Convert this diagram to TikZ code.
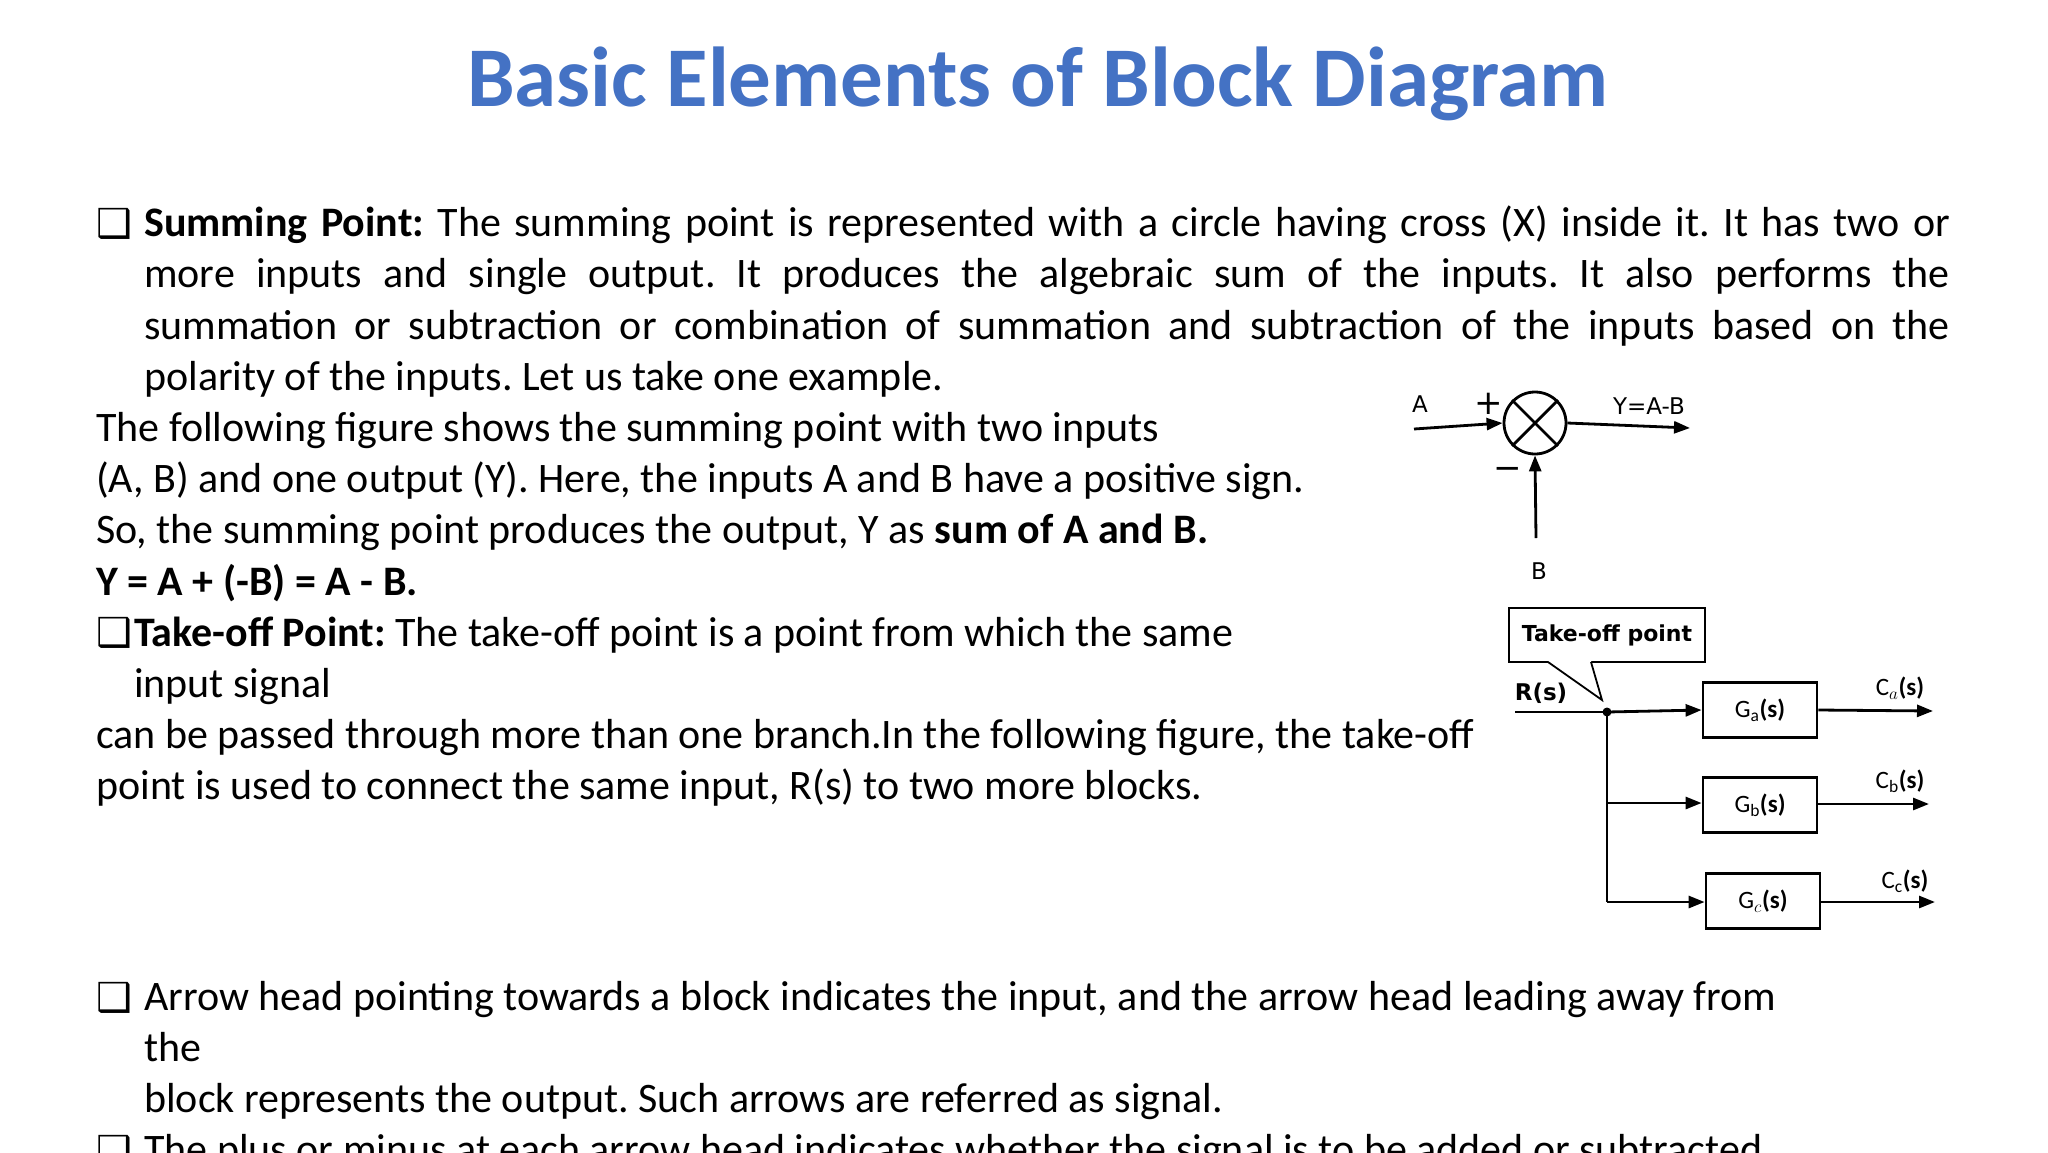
\documentclass[tikz,border=0pt]{standalone}
\usepackage{fontspec}
\setmainfont{Carlito}
\newfontfamily\dejavu{DejaVu Sans}
\usetikzlibrary{arrows.meta}
\definecolor{titleblue}{RGB}{68,114,196}
\tikzset{
  txt/.style={anchor=base west,inner sep=0pt,font=\frenchspacing\fontsize{42}{50}\selectfont},
  bul/.style={anchor=base west,inner sep=0pt,font=\dejavu\fontsize{40}{44}\selectfont},
  fig/.style={inner sep=0pt,font=\dejavu\fontsize{23}{27}\selectfont},
  sig/.style={line width=2.8pt,-{Triangle[length=16pt,width=12pt]}},
  wire/.style={line width=2.8pt},
  blk/.style={draw,line width=2.8pt,minimum width=114pt,minimum height=55pt,inner sep=0pt,font=\fontsize{25}{30}\selectfont}
}
\begin{document}
\begin{tikzpicture}[x=1pt,y=-1pt]
\useasboundingbox (0,0) rectangle (2048,1152);
\clip (0,0) rectangle (2048,1152);
\node[inner sep=0pt,text=titleblue,font=\bfseries\fontsize{85}{95}\selectfont] (title) at (1038,84) {Basic Elements of Block Diagram};
% bullet 1
\node[bul] (b1) at (96,237) {❑};
\node[txt] (l1) at (144,236) {\hbox to 1806pt{\textbf{Summing Point:} The summing point is represented with a circle having cross (X) inside it. It has two or}};
\node[txt] (l2) at (144,287) {\hbox to 1806pt{more inputs and single output. It produces the algebraic sum of the inputs. It also performs the}};
\node[txt] (l3) at (144,339) {\hbox to 1806pt{summation or subtraction or combination of summation and subtraction of the inputs based on the}};
\node[txt] (l4) at (144,390) {polarity of the inputs. Let us take one example.};
\node[txt] (l5) at (96,441) {The following figure shows the summing point with two inputs};
\node[txt] (l6) at (96,492) {(A, B) and one output (Y). Here, the inputs A and B have a positive sign.};
\node[txt] (l7) at (96,543) {So, the summing point produces the output, Y as \textbf{sum of A and B.}};
\node[txt] (l8) at (96,595) {\textbf{Y = A + (-B) = A - B.}};
\node[bul] (b2) at (96,646) {❑};
\node[txt] (l9) at (134,646) {\textbf{Take-off Point:} The take-off point is a point from which the same};
\node[txt] (l10) at (134,697) {input signal};
\node[txt] (l11) at (96,748) {can be passed through more than one branch.In the following figure, the take-off};
\node[txt] (l12) at (96,799) {point is used to connect the same input, R(s) to two more blocks.};
\node[bul] (b3) at (96,1011) {❑};
\node[txt] (l13) at (144,1010) {Arrow head pointing towards a block indicates the input, and the arrow head leading away from};
\node[txt] (l14) at (144,1061) {the};
\node[txt] (l15) at (144,1112) {block represents the output. Such arrows are referred as signal.};
\node[bul] (b4) at (96,1164) {❑};
\node[txt] (l16) at (144,1163) {The plus or minus at each arrow head indicates whether the signal is to be added or subtracted};
\begin{scope}[xshift=-8pt]
% summing point figure
\node[circle,draw,line width=2.8pt,minimum size=62pt,inner sep=0pt] (sum) at (1543,423) {};
\draw[wire] (sum.north west) -- (sum.south east) (sum.north east) -- (sum.south west);
\coordinate (ain) at (1422,429);
\coordinate (yout) at (1698,428);
\coordinate (bin) at (1544,538);
\draw[sig] (ain) -- (sum.west);
\draw[sig] (sum.east) -- (yout);
\draw[sig] (bin) -- (sum.south);
\node[fig] (A) at (1428,404) {A};
\node[fig,font=\dejavu\fontsize{34}{34}\selectfont] (plus) at (1497,404) {+};
\node[fig,font=\dejavu\fontsize{34}{34}\selectfont] (minus) at (1516,473) {\textminus};
\node[fig] (Y) at (1657,406) {Y=A-B};
\node[fig] (B) at (1547,571) {B};
% take-off figure
\node[draw,line width=1.8pt,minimum width=196pt,minimum height=54pt,inner sep=0pt,font=\dejavu\bfseries\fontsize{22}{26}\selectfont] (tbox) at (1615,635) {Take-off point};
\coordinate (tp) at (1615,712);
\fill[white] (1556,661) -- (1610,700) -- (1599,661) -- cycle;
\draw[line width=1.8pt] (1556,662) -- (1610,700) -- (1599,662);
\fill (tp) circle (4.5pt);
\node[fig,font=\dejavu\bfseries\fontsize{23}{27}\selectfont] (R) at (1549,693) {R(s)};
\coordinate (rin) at (1523,712);
\draw[wire] (rin) -- (tp);
\node[blk] (Ga) at (1768,710) {G$_{\mathrm a}$\textbf{(s)}};
\node[blk] (Gb) at (1768,805) {G$_{\mathrm b}$\textbf{(s)}};
\node[blk] (Gc) at (1771,901) {G$_{c}$\textbf{(s)}};
\coordinate (tb) at (1615,803);
\coordinate (tc) at (1615,902);
\draw[sig] (tp) -- (Ga.west);
\draw[wire] (tp) -- (tc);
\draw[sig] (tb) -- (tb -| Gb.west);
\draw[sig] (tc) -- (tc -| Gc.west);
\coordinate (ca) at (1941,711);
\coordinate (cb) at (1937,804);
\coordinate (cc) at (1943,902);
\draw[sig] (Ga.east) -- (ca);
\draw[sig] (Gb.east |- cb) -- (cb);
\draw[sig] (Gc.east |- cc) -- (cc);
\node[fig,font=\fontsize{25}{30}\selectfont] (Ca) at (1908,688) {C$_{a}$\textbf{(s)}};
\node[fig,font=\fontsize{25}{30}\selectfont] (Cb) at (1908,781) {C$_{\mathrm b}$\textbf{(s)}};
\node[fig,font=\fontsize{25}{30}\selectfont] (Cc) at (1913,881) {C$_{\mathrm c}$\textbf{(s)}};
\end{scope}
\end{tikzpicture}
\end{document}
